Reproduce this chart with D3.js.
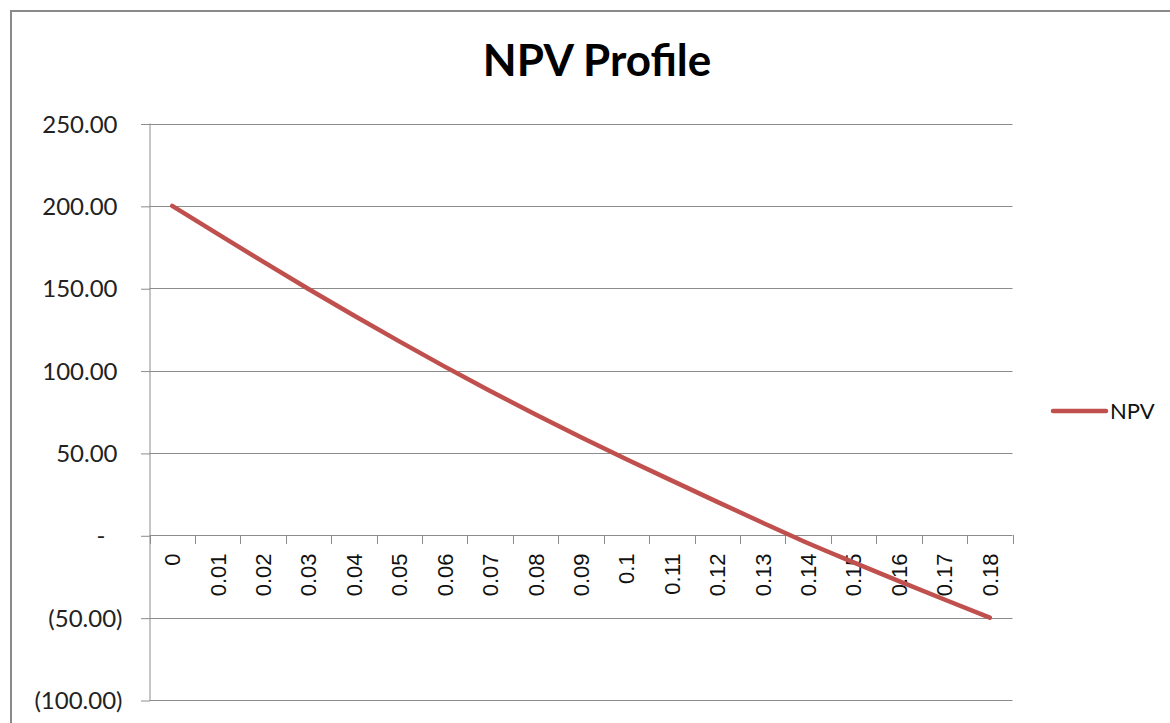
<!DOCTYPE html>
<html><head><meta charset="utf-8">
<script src="https://cdn.jsdelivr.net/npm/d3@7"></script>
<style>
html,body{margin:0;padding:0;background:#fff;}
svg{display:block;}
</style></head>
<body>
<svg id="chart" width="1170" height="723"></svg>
<script>
const categories = ["0","0.01","0.02","0.03","0.04","0.05","0.06","0.07","0.08","0.09","0.1","0.11","0.12","0.13","0.14","0.15","0.16","0.17","0.18"];
const npvValues = [200,183.0,166.1,149.5,133.4,117.7,102.4,87.6,73.3,59.5,46.2,33.2,20.3,7.6,-4.8,-16.4,-27.8,-39.0,-50.0];
const yTicks = [250,200,150,100,50,0,-50,-100];
const seriesName = "NPV";
const titleText = "NPV Profile";

const svg = d3.select("#chart");
const W = 1170, H = 723;
const plot = {left:149.5, right:1012.5, top:123.5, bottom:700};

// outer border
svg.append("rect").attr("x",11).attr("y",11).attr("width",W+20).attr("height",H+20)
  .attr("fill","#fff").attr("stroke","#8a8a8a").attr("stroke-width",2);

const x = d3.scaleBand().domain(categories).range([plot.left, plot.right]).padding(0);
const y = d3.scaleLinear().domain([-100,250]).range([plot.bottom, plot.top]);

const gridColor = "#8c8c8c";

// horizontal gridlines
svg.append("g").selectAll("line").data(yTicks).join("line")
  .attr("x1",plot.left).attr("x2",plot.right)
  .attr("y1",d=>Math.round(y(d))+0.5).attr("y2",d=>Math.round(y(d))+0.5)
  .attr("stroke",gridColor).attr("stroke-width",1);

// y axis
const fmt = d => d===0 ? "-" : (d<0 ? "(" + d3.format(",.2f")(-d) + ")" : d3.format(",.2f")(d));
const yAxis = d3.axisLeft(y).tickValues(yTicks).tickSize(9).tickPadding(0).tickFormat(fmt);
const gy = svg.append("g").attr("transform",`translate(${plot.left},0)`).call(yAxis);
gy.select(".domain").attr("stroke",gridColor).attr("d",`M0.5,${plot.top}V${plot.bottom}`);
gy.selectAll(".tick line").attr("stroke",gridColor).attr("transform","translate(0.5,0.5)");
gy.selectAll(".tick text")
  .attr("font-family","Lato, 'Open Sans', sans-serif").attr("font-size",24).attr("fill","#222")
  .attr("text-anchor","end")
  .attr("x",d=> d===0 ? -44 : (d<0 ? -27 : -32))
  .attr("dy","0.36em");

// x axis at zero
const xAxis = d3.axisBottom(x).tickSize(0).tickFormat(d=>d);
const gx = svg.append("g").attr("transform",`translate(0,${Math.round(y(0))+0.5})`).call(xAxis);
gx.select(".domain").remove();
gx.selectAll(".tick text")
  .attr("font-family","'Liberation Sans', Arial, sans-serif").attr("font-size",22).attr("fill","#111")
  .attr("text-anchor","end")
  .attr("transform","rotate(-90)")
  .attr("x",-18).attr("y",0).attr("dy","0.36em");
// category boundary tick marks
const boundaries = categories.map(c=>x(c)+x.bandwidth()).concat([x(categories[0])]);
svg.append("g").selectAll("line").data(boundaries).join("line")
  .attr("x1",d=>Math.round(d)+0.5).attr("x2",d=>Math.round(d)+0.5)
  .attr("y1",Math.round(y(0))).attr("y2",Math.round(y(0))+9)
  .attr("stroke",gridColor).attr("stroke-width",1);

// line
const line = d3.line().x((d,i)=>x(categories[i])+x.bandwidth()/2).y(d=>y(d)).curve(d3.curveMonotoneX);
svg.append("path").datum(npvValues).attr("d",line)
  .attr("fill","none").attr("stroke","#C0504D").attr("stroke-width",4.5)
  .attr("stroke-linecap","round").attr("stroke-linejoin","round");

// title
svg.append("text").attr("x",597).attr("y",76).attr("text-anchor","middle")
  .attr("font-family","Lato, 'Open Sans', sans-serif").attr("font-weight","bold").attr("font-size",44)
  .attr("fill","#000").text(titleText);

// legend
const lg = svg.append("g");
lg.append("line").attr("x1",1053).attr("x2",1106).attr("y1",411).attr("y2",411)
  .attr("stroke","#C0504D").attr("stroke-width",4.5).attr("stroke-linecap","round");
lg.append("text").attr("x",1110).attr("y",411).attr("dy","0.36em")
  .attr("font-family","Lato, 'Open Sans', sans-serif").attr("font-size",22).attr("fill","#111")
  .text(seriesName);
</script>
</body></html>
